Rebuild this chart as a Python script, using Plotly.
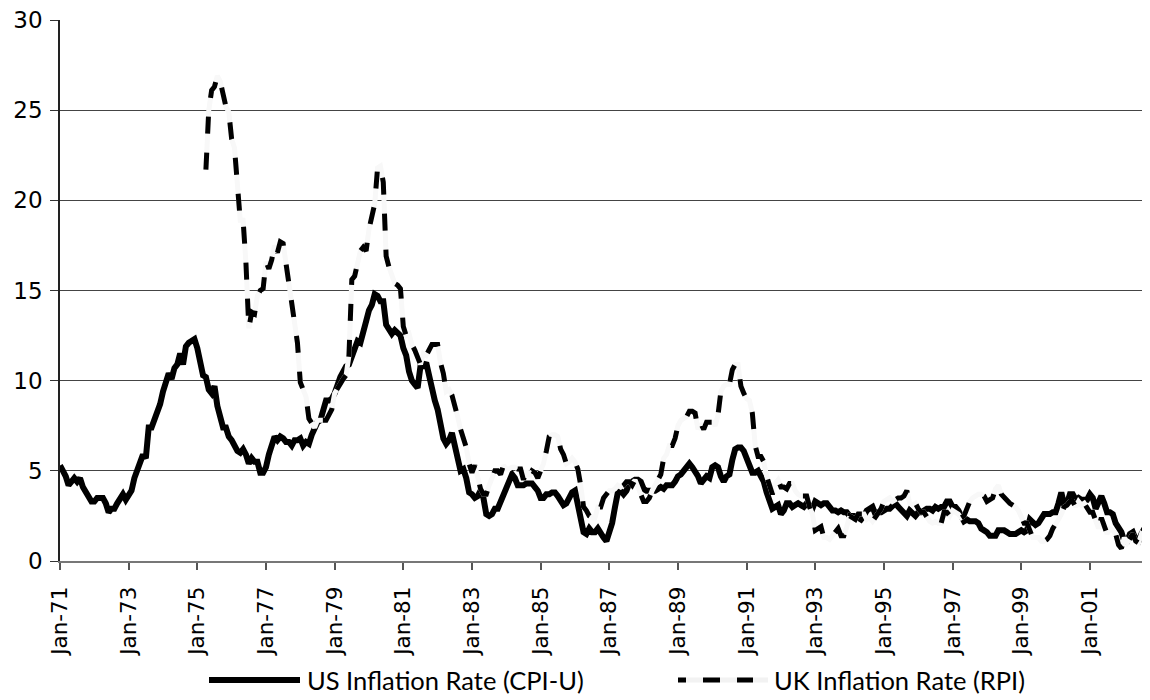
import plotly.graph_objects as go
import pandas as pd

# ---- categories (monthly) ----
months = pd.date_range("1971-01-01", "2002-10-01", freq="MS")
month_labels = [d.strftime("%b-%y") for d in months]

# ---- US CPI-U inflation, % yoy, Jan-71 .. Oct-02 ----
us_1971_1980 = [
    5.3, 5.0, 4.7, 4.2, 4.4, 4.6, 4.4, 4.6, 4.1, 3.8, 3.5, 3.3,
    3.3, 3.5, 3.5, 3.5, 3.2, 2.7, 2.9, 2.9, 3.2, 3.4, 3.7, 3.4,
    3.6, 3.9, 4.6, 5.1, 5.5, 5.9, 5.7, 7.4, 7.4, 7.8, 8.3, 8.7,
    9.4, 10.0, 10.4, 10.1, 10.7, 10.9, 11.5, 10.9, 11.9, 12.1, 12.2, 12.3,
    11.8, 11.2, 10.3, 10.2, 9.5, 9.3, 9.7, 8.6, 7.9, 7.4, 7.4, 6.9,
    6.7, 6.3, 6.1, 6.0, 6.2, 5.9, 5.4, 5.7, 5.5, 5.5, 4.9, 4.9,
    5.2, 5.9, 6.4, 6.9, 6.7, 6.9, 6.8, 6.6, 6.6, 6.4, 6.7, 6.7,
    6.8, 6.4, 6.6, 6.5, 7.0, 7.4, 7.7, 7.8, 8.3, 8.9, 8.9, 9.0,
    9.3, 9.9, 10.2, 10.5, 10.8, 10.9, 11.3, 11.8, 12.2, 12.1, 12.6, 13.3,
    13.9, 14.2, 14.8, 14.7, 14.4, 14.4, 13.1, 12.9, 12.6, 12.8, 12.6, 12.5,
]
us_1981_1990 = [
    11.8, 11.4, 10.5, 10.0, 9.8, 9.6, 10.8, 10.8, 11.0, 10.1, 9.6, 8.9,
    8.4, 7.6, 6.8, 6.5, 6.7, 7.1, 6.4, 5.9, 5.0, 5.1, 4.6, 3.8,
    3.7, 3.5, 3.6, 3.9, 3.5, 2.6, 2.5, 2.6, 2.9, 2.9, 3.3, 3.8,
    4.2, 4.6, 4.8, 4.6, 4.2, 4.2, 4.2, 4.3, 4.3, 4.3, 4.1, 3.9,
    3.5, 3.5, 3.7, 3.7, 3.8, 3.8, 3.6, 3.3, 3.1, 3.2, 3.5, 3.8,
    3.9, 3.1, 2.2, 1.6, 1.5, 1.8, 1.6, 1.6, 1.8, 1.5, 1.3, 1.1,
    1.5, 2.1, 3.0, 3.8, 3.9, 3.7, 3.9, 4.3, 4.4, 4.5, 4.5, 4.4,
    4.0, 3.9, 3.9, 3.9, 3.9, 4.0, 4.1, 4.0, 4.2, 4.2, 4.2, 4.4,
    4.7, 4.8, 5.0, 5.1, 5.4, 5.2, 5.0, 4.7, 4.3, 4.5, 4.7, 4.6,
    5.2, 5.3, 5.2, 4.7, 4.4, 4.7, 4.8, 5.6, 6.2, 6.3, 6.3, 6.1,
]
us_1991_2002 = [
    5.7, 5.3, 4.9, 4.9, 5.0, 4.7, 4.4, 3.8, 3.4, 2.9, 3.0, 3.1,
    2.6, 2.8, 3.2, 3.2, 3.0, 3.1, 3.2, 3.1, 3.0, 3.2, 3.0, 2.9,
    3.3, 3.2, 3.1, 3.2, 3.2, 3.0, 2.8, 2.8, 2.7, 2.8, 2.7, 2.7,
    2.5, 2.5, 2.5, 2.4, 2.3, 2.5, 2.8, 2.9, 3.0, 2.6, 2.7, 2.7,
    2.8, 2.9, 2.9, 3.1, 3.2, 3.0, 2.8, 2.6, 2.5, 2.8, 2.6, 2.5,
    2.7, 2.7, 2.8, 2.9, 2.9, 2.8, 3.0, 2.9, 3.0, 3.0, 3.3, 3.3,
    3.0, 3.0, 2.8, 2.5, 2.2, 2.3, 2.2, 2.2, 2.2, 2.1, 1.8, 1.7,
    1.6, 1.4, 1.4, 1.4, 1.7, 1.7, 1.7, 1.6, 1.5, 1.5, 1.5, 1.6,
    1.7, 1.6, 1.7, 2.3, 2.1, 2.0, 2.1, 2.3, 2.6, 2.6, 2.6, 2.7,
    2.7, 3.2, 3.8, 3.1, 3.2, 3.7, 3.7, 3.4, 3.5, 3.4, 3.4, 3.4,
    3.7, 3.5, 2.9, 3.3, 3.6, 3.2, 2.7, 2.7, 2.6, 2.1, 1.9, 1.6,
    1.1, 1.1, 1.5, 1.6, 1.2, 1.1, 1.5, 1.8, 1.5, 2.1,
]
us_inflation = us_1971_1980 + us_1981_1990 + us_1991_2002

# ---- UK RPI inflation, % yoy, Apr-75 .. Oct-02 ----
uk_first_month = "Apr-75"
uk_1975_1984 = [
    21.7, 25.0, 26.1, 26.3, 26.9, 26.6, 25.9, 25.2, 24.9,
    23.4, 22.9, 21.2, 18.9, 18.9, 16.5, 12.9, 13.8, 13.7, 14.7, 15.0, 15.1,
    16.6, 16.2, 16.7, 17.5, 17.1, 17.7, 17.6, 16.5, 15.6, 14.1, 13.0, 12.1,
    9.9, 9.5, 9.1, 7.9, 7.7, 7.4, 7.8, 7.8, 7.8, 7.8, 8.1, 8.4,
    9.3, 9.6, 9.8, 10.1, 10.3, 11.4, 15.6, 15.8, 16.5, 17.2, 17.4, 17.2,
    18.4, 19.1, 19.8, 21.8, 21.9, 21.0, 16.9, 16.3, 15.9, 15.4, 15.3, 15.1,
    13.0, 12.5, 12.6, 12.0, 11.7, 11.3, 10.9, 11.5, 11.4, 11.7, 12.0, 12.0,
    12.0, 11.0, 10.4, 9.4, 9.5, 9.2, 8.7, 8.0, 7.3, 6.8, 6.3, 5.4,
    4.9, 5.3, 4.6, 4.0, 3.7, 3.7, 4.2, 4.6, 5.0, 5.0, 4.8, 5.3,
    5.1, 5.1, 5.2, 5.2, 5.1, 5.1, 4.5, 5.0, 4.7, 5.0, 4.9, 4.6,
]
uk_1985_1994 = [
    5.0, 5.4, 6.1, 6.9, 7.0, 7.0, 6.9, 6.2, 5.9, 5.4, 5.5, 5.7,
    5.5, 5.1, 4.2, 3.0, 2.8, 2.5, 2.4, 2.4, 3.0, 3.0, 3.5, 3.7,
    3.9, 3.9, 4.0, 4.2, 4.1, 4.2, 4.4, 4.4, 4.2, 4.5, 4.1, 3.7,
    3.3, 3.3, 3.5, 3.9, 4.2, 4.6, 4.8, 5.7, 5.9, 6.4, 6.4, 6.8,
    7.5, 7.8, 7.9, 8.0, 8.3, 8.3, 8.2, 7.3, 7.6, 7.3, 7.7, 7.7,
    7.7, 7.5, 8.1, 9.4, 9.7, 9.8, 9.8, 10.6, 10.9, 10.9, 9.7, 9.3,
    9.0, 8.9, 8.2, 6.4, 5.8, 5.8, 5.5, 4.7, 4.1, 3.7, 4.3, 4.5,
    4.1, 4.1, 4.0, 4.3, 4.3, 3.9, 3.7, 3.6, 3.6, 3.6, 3.0, 2.6,
    1.7, 1.8, 1.9, 1.3, 1.3, 1.2, 1.4, 1.7, 1.8, 1.4, 1.4, 1.9,
    2.5, 2.4, 2.3, 2.6, 2.6, 2.6, 2.3, 2.4, 2.2, 2.4, 2.6, 2.9,
]
uk_1995_2002 = [
    3.3, 3.4, 3.5, 3.3, 3.4, 3.5, 3.5, 3.6, 3.9, 3.2, 3.1, 3.2,
    2.9, 2.7, 2.7, 2.4, 2.2, 2.1, 2.2, 2.1, 2.1, 2.7, 2.7, 2.5,
    2.8, 2.7, 2.6, 2.4, 2.5, 2.9, 3.3, 3.5, 3.6, 3.7, 3.7, 3.6,
    3.3, 3.4, 3.5, 4.0, 4.2, 3.7, 3.5, 3.3, 3.2, 3.1, 3.0, 2.8,
    2.4, 2.1, 2.1, 1.6, 1.3, 1.3, 1.3, 1.1, 1.1, 1.2, 1.4, 1.8,
    2.0, 2.3, 2.6, 3.0, 3.1, 3.3, 3.3, 3.0, 3.3, 3.1, 3.2, 2.9,
    2.7, 2.7, 2.3, 1.8, 2.4, 1.9, 1.5, 1.8, 1.7, 1.5, 0.9, 0.7,
    1.3, 1.0, 1.3, 1.5, 1.1, 1.0, 1.5, 1.4, 1.7, 2.1,
]
uk_inflation = uk_1975_1984 + uk_1985_1994 + uk_1995_2002

tick_labels = ["Jan-71", "Jan-73", "Jan-75", "Jan-77", "Jan-79", "Jan-81",
               "Jan-83", "Jan-85", "Jan-87", "Jan-89", "Jan-91", "Jan-93",
               "Jan-95", "Jan-97", "Jan-99", "Jan-01"]
y_ticks = [0, 5, 10, 15, 20, 25, 30]

us_name = "US Inflation Rate (CPI-U)"
uk_name = "UK Inflation Rate (RPI)"

uk_start = month_labels.index(uk_first_month)
uk_x = month_labels[uk_start:uk_start + len(uk_inflation)]
us_x = month_labels[:len(us_inflation)]

fig = go.Figure()
fig.add_trace(go.Scatter(x=us_x, y=us_inflation, mode="lines", name=us_name,
                         line=dict(color="black", width=6), showlegend=False))
# the white gaps of the long-dash line (drawn over the solid series)
fig.add_trace(go.Scatter(x=uk_x, y=uk_inflation, mode="lines", name=uk_name,
                         line=dict(color="#f8f8f8", width=5), showlegend=False,
                         hoverinfo="skip"))
fig.add_trace(go.Scatter(x=uk_x, y=uk_inflation, mode="lines", name=uk_name,
                         line=dict(color="black", width=5, dash="17px,19px"),
                         showlegend=False))

# the page has an 8px body margin: figure is sized/positioned to compensate
OFF = 8
W, H = 1150 - OFF, 700 - OFF
ml, mr, mt, mb = 60 - OFF, 0, 20 - OFF, 700 - 561
pw, ph = W - ml - mr, H - mt - mb


def px(xscreen):
    return (xscreen - OFF - ml) / pw


def py(yscreen):
    return (H - mb - (yscreen - OFF)) / ph


leg_y = py(680)
shapes = [
    dict(type="line", xref="paper", yref="paper", x0=px(209), x1=px(300),
         y0=leg_y, y1=leg_y, line=dict(color="black", width=6)),
    dict(type="line", xref="paper", yref="paper", x0=px(678), x1=px(768),
         y0=leg_y, y1=leg_y, line=dict(color="#f2f2f2", width=5)),
    dict(type="line", xref="paper", yref="paper", x0=px(678), x1=px(686),
         y0=leg_y, y1=leg_y, line=dict(color="black", width=5)),
    dict(type="line", xref="paper", yref="paper", x0=px(703), x1=px(720),
         y0=leg_y, y1=leg_y, line=dict(color="black", width=5)),
    dict(type="line", xref="paper", yref="paper", x0=px(737), x1=px(753),
         y0=leg_y, y1=leg_y, line=dict(color="black", width=5)),
]
leg_font = dict(family="Lato", size=25.5, color="black")
annotations = [
    dict(text=us_name, xref="paper", yref="paper", x=px(305), y=leg_y,
         xanchor="left", yanchor="middle", showarrow=False, font=leg_font),
    dict(text=uk_name, xref="paper", yref="paper", x=px(772), y=leg_y,
         xanchor="left", yanchor="middle", showarrow=False, font=leg_font),
]

fig.update_layout(
    width=W, height=H,
    margin=dict(l=ml, r=mr, t=mt, b=mb, pad=0, autoexpand=False),
    paper_bgcolor="white", plot_bgcolor="white",
    showlegend=False,
    shapes=shapes, annotations=annotations,
    xaxis=dict(type="category", categoryorder="array", categoryarray=month_labels,
               range=[0, len(month_labels) - 1], automargin=False,
               tickmode="array", tickvals=tick_labels, ticktext=tick_labels,
               tickangle=-90, ticks="outside", ticklen=7, tickcolor="#555",
               tickwidth=1.5, showgrid=False, zeroline=False,
               showline=True, linecolor="#777", linewidth=2,
               ticklabelstandoff=8, ticklabeloverflow="allow",
               tickfont=dict(family="DejaVu Sans", size=21.5, color="black")),
    yaxis=dict(range=[0, 30], tickmode="array", tickvals=y_ticks, automargin=False,
               ticks="outside", ticklen=8, tickcolor="#333", tickwidth=1.2,
               showgrid=True, gridcolor="#444", gridwidth=1,
               zeroline=False, showline=True, linecolor="#222", linewidth=1.5,
               ticklabelstandoff=3, ticklabeloverflow="allow",
               tickfont=dict(family="DejaVu Sans", size=23, color="black")),
)

fig.write_html("out.html")
